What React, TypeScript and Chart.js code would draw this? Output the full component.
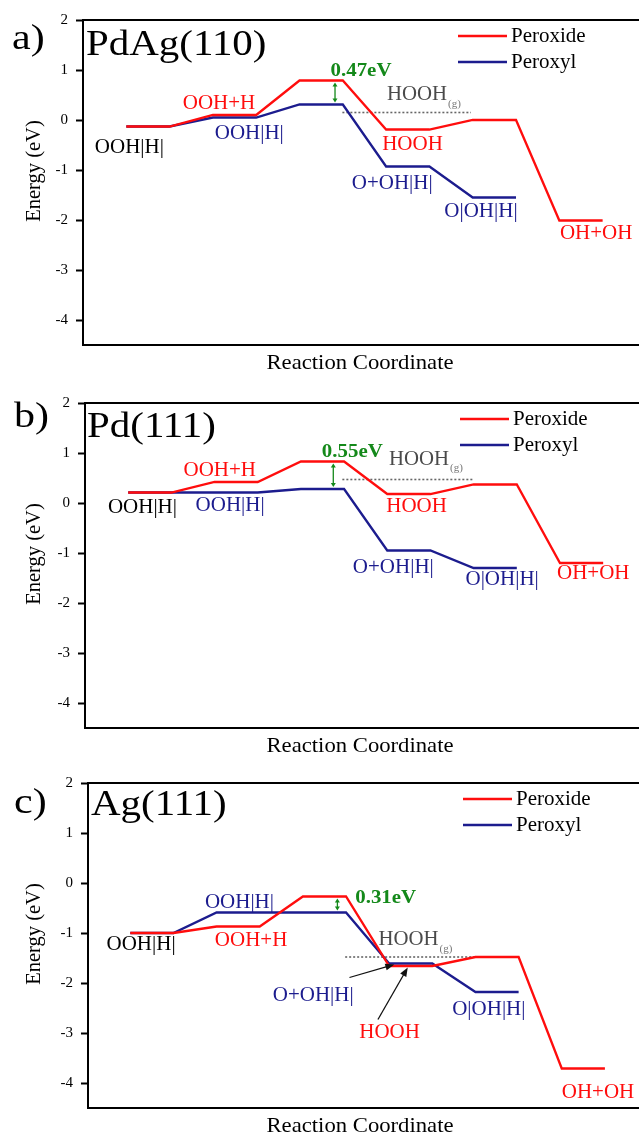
import React, { useEffect, useRef } from "react";
import { Chart, registerables } from "chart.js";

Chart.register(...registerables);

const SERIF = '"Liberation Serif", "Times New Roman", serif';
const RED = "#ff0d0d";
const BLUE = "#1c1c8e";
const GREEN = "#14891a";
const GRAY = "#4a4a4a";

// ---- data ----
const seriesNames = ["Peroxide", "Peroxyl"];
const yTicks = [2, 1, 0, -1, -2, -3, -4];
const panelLetters = ["a)", "b)", "c)"];
const surfaces = ["PdAg(110)", "Pd(111)", "Ag(111)"];
const barrierTexts = ["0.47eV", "0.55eV", "0.31eV"];

// PdAg(110)
const peroxideA = [-0.13, 0.1, 0.79, -0.19, 0.0, -2.01];
const peroxylA = [-0.13, 0.05, 0.31, -0.93, -1.55];
// Pd(111)
const peroxideB = [0.21, 0.42, 0.83, 0.18, 0.37, -1.2];
const peroxylB = [0.21, 0.21, 0.28, -0.95, -1.3];
// Ag(111)
const peroxideC = [-1.0, -0.87, -0.27, -1.66, -1.48, -3.71];
const peroxylC = [-1.0, -0.59, -0.59, -1.61, -2.18];

const hoohGas = [0.15, 0.47, -1.48];

const stateNames = ["OOH|H|", "OOH+H", "HOOH", "O+OH|H|", "O|OH|H|", "OH+OH"];

type Lbl = { text: string; x: number; y: number; color: string };

const labelsA: Lbl[] = [
  { text: stateNames[0], x: 0.07, y: -0.54, color: "#000" },
  { text: stateNames[1], x: 2.14, y: 0.34, color: RED },
  { text: stateNames[0], x: 2.84, y: -0.26, color: BLUE },
  { text: stateNames[2], x: 6.61, y: -0.48, color: RED },
  { text: stateNames[3], x: 6.14, y: -1.26, color: BLUE },
  { text: stateNames[4], x: 8.19, y: -1.82, color: BLUE },
  { text: stateNames[5], x: 10.85, y: -2.26, color: RED },
];
const labelsB: Lbl[] = [
  { text: stateNames[0], x: 0.33, y: -0.08, color: "#000" },
  { text: stateNames[1], x: 2.12, y: 0.66, color: RED },
  { text: stateNames[0], x: 2.36, y: -0.04, color: BLUE },
  { text: stateNames[2], x: 6.68, y: -0.06, color: RED },
  { text: stateNames[3], x: 6.14, y: -1.29, color: BLUE },
  { text: stateNames[4], x: 8.66, y: -1.53, color: BLUE },
  { text: stateNames[5], x: 10.77, y: -1.41, color: RED },
];
const labelsC: Lbl[] = [
  { text: stateNames[0], x: 0.25, y: -1.22, color: "#000" },
  { text: stateNames[1], x: 2.8, y: -1.14, color: RED },
  { text: stateNames[0], x: 2.53, y: -0.38, color: BLUE },
  { text: stateNames[2], x: 6.01, y: -2.98, color: RED },
  { text: stateNames[3], x: 4.24, y: -2.24, color: BLUE },
  { text: stateNames[4], x: 8.31, y: -2.52, color: BLUE },
  { text: stateNames[5], x: 10.84, y: -4.18, color: RED },
];

type PanelCfg = {
  idx: number;
  peroxide: number[];
  peroxyl: number[];
  labels: Lbl[];
  height: number;
  top: number;
  bottom: number;
  left: number;
  xMin: number;
  xMax: number;
  letterY: number;
  letterX: number;
  titleY: number;
  titleX: number;
  arrowX: number;
  barrierPos: [number, number];
  gasTextPos: [number, number];
  gasRange: [number, number];
  pointers: [number, number, number, number][];
};

const panels: PanelCfg[] = [
  {
    idx: 0, peroxide: peroxideA, peroxyl: peroxylA, labels: labelsA,
    height: 380, top: 20, bottom: 345, left: 83, xMin: -1, xMax: 11.84,
    letterX: 12, letterY: 40, titleX: 86, titleY: 46,
    arrowX: 4.82, barrierPos: [5.42, 0.98], gasTextPos: [6.02, 0.5], gasRange: [4.99, 7.96],
    pointers: [],
  },
  {
    idx: 1, peroxide: peroxideB, peroxyl: peroxylB, labels: labelsB,
    height: 380, top: 23, bottom: 348, left: 85, xMin: -1, xMax: 11.83,
    letterX: 14, letterY: 38, titleX: 87, titleY: 48,
    arrowX: 4.75, barrierPos: [5.19, 1.01], gasTextPos: [6.04, 0.87], gasRange: [4.96, 7.98],
    pointers: [],
  },
  {
    idx: 2, peroxide: peroxideC, peroxyl: peroxylC, labels: labelsC,
    height: 374, top: 23, bottom: 348, left: 88, xMin: -0.98, xMax: 11.79,
    letterX: 14, letterY: 44, titleX: 91, titleY: 46,
    arrowX: 4.8, barrierPos: [5.92, -0.3], gasTextPos: [5.75, -1.14], gasRange: [4.98, 7.97],
    pointers: [
      [5.08, -1.89, 6.12, -1.63],
      [5.74, -2.73, 6.43, -1.69],
    ],
  },
];

function levelPoints(levels: number[]) {
  return levels.flatMap((v, i) => [
    { x: 2 * i, y: v },
    { x: 2 * i + 1, y: v },
  ]);
}

function drawText(
  ctx: CanvasRenderingContext2D,
  text: string,
  x: number,
  y: number,
  size: number,
  color: string,
  align: CanvasTextAlign = "center",
  sx = 1,
  weight = "normal"
) {
  ctx.save();
  ctx.font = `${weight} ${size}px ${SERIF}`;
  ctx.fillStyle = color;
  ctx.textAlign = align;
  ctx.textBaseline = "middle";
  ctx.translate(x, y);
  ctx.scale(sx, 1);
  ctx.fillText(text, 0, 0);
  ctx.restore();
}

function head(ctx: CanvasRenderingContext2D, x1: number, y1: number, x2: number, y2: number, len: number, half: number) {
  const a = Math.atan2(y2 - y1, x2 - x1);
  const c = Math.cos(a), s = Math.sin(a);
  ctx.beginPath();
  ctx.moveTo(x2, y2);
  ctx.lineTo(x2 - len * c + half * s, y2 - len * s - half * c);
  ctx.lineTo(x2 - len * c - half * s, y2 - len * s + half * c);
  ctx.closePath();
  ctx.fill();
}

function Panel({ cfg }: { cfg: PanelCfg }) {
  const ref = useRef<HTMLCanvasElement>(null);
  useEffect(() => {
    const canvas = ref.current;
    if (!canvas) return;
    const deco = {
      id: "deco",
      beforeDatasetsDraw(chart: any) {
        const ctx = chart.ctx as CanvasRenderingContext2D;
        const xs = chart.scales.x, ys = chart.scales.y;
        const gy = ys.getPixelForValue(hoohGas[cfg.idx]);
        ctx.save();
        ctx.strokeStyle = "#666";
        ctx.lineWidth = 1.6;
        ctx.setLineDash([2, 2]);
        ctx.beginPath();
        ctx.moveTo(xs.getPixelForValue(cfg.gasRange[0]), gy);
        ctx.lineTo(xs.getPixelForValue(cfg.gasRange[1]), gy);
        ctx.stroke();
        ctx.restore();
      },
      afterDatasetsDraw(chart: any) {
        const ctx = chart.ctx as CanvasRenderingContext2D;
        const xs = chart.scales.x, ys = chart.scales.y;
        const area = chart.chartArea;
        // state labels
        for (const l of cfg.labels) {
          drawText(ctx, l.text, xs.getPixelForValue(l.x), ys.getPixelForValue(l.y), 21, l.color, "center", 1.0);
        }
        // gas-phase HOOH label
        const gx = xs.getPixelForValue(cfg.gasTextPos[0]);
        const gyy = ys.getPixelForValue(cfg.gasTextPos[1]);
        ctx.save();
        ctx.font = `20px ${SERIF}`;
        const w = ctx.measureText("HOOH").width * 1.04;
        ctx.restore();
        drawText(ctx, "HOOH", gx, gyy, 20, GRAY, "left", 1.04);
        drawText(ctx, "(g)", gx + w + 1, gyy + 9, 11, "#777", "left", 1.0);
        // barrier arrow
        const ax = xs.getPixelForValue(cfg.arrowX);
        const y1 = ys.getPixelForValue(cfg.peroxide[2]) + 2;
        const y2 = ys.getPixelForValue(cfg.peroxyl[2]) - 2;
        ctx.save();
        ctx.strokeStyle = GREEN;
        ctx.fillStyle = GREEN;
        ctx.lineWidth = 1.3;
        ctx.beginPath();
        ctx.moveTo(ax, y1 + 3);
        ctx.lineTo(ax, y2 - 3);
        ctx.stroke();
        head(ctx, ax, y2, ax, y1, 4, 2.5);
        head(ctx, ax, y1, ax, y2, 4, 2.5);
        ctx.restore();
        drawText(ctx, barrierTexts[cfg.idx], xs.getPixelForValue(cfg.barrierPos[0]), ys.getPixelForValue(cfg.barrierPos[1]), 19, GREEN, "center", 1.1, "bold");
        // pointer arrows
        ctx.save();
        ctx.strokeStyle = "#111";
        ctx.fillStyle = "#111";
        ctx.lineWidth = 1.3;
        for (const p of cfg.pointers) {
          const px1 = xs.getPixelForValue(p[0]), py1 = ys.getPixelForValue(p[1]);
          const px2 = xs.getPixelForValue(p[2]), py2 = ys.getPixelForValue(p[3]);
          const a = Math.atan2(py2 - py1, px2 - px1);
          ctx.beginPath();
          ctx.moveTo(px1, py1);
          ctx.lineTo(px2 - 6 * Math.cos(a), py2 - 6 * Math.sin(a));
          ctx.stroke();
          head(ctx, px1, py1, px2, py2, 9, 3.5);
        }
        ctx.restore();
        // top frame line
        ctx.save();
        ctx.strokeStyle = "#000";
        ctx.lineWidth = 2;
        ctx.beginPath();
        ctx.moveTo(area.left - 1, area.top);
        ctx.lineTo(chart.width, area.top);
        ctx.stroke();
        ctx.restore();
      },
      afterDraw(chart: any) {
        const ctx = chart.ctx as CanvasRenderingContext2D;
        const area = chart.chartArea;
        // legend
        const lx = area.left + 375;
        chart.data.datasets.forEach((ds: any, i: number) => {
          const ly = area.top + 16 + i * 26;
          ctx.save();
          ctx.strokeStyle = ds.borderColor;
          ctx.lineWidth = 2.4;
          ctx.beginPath();
          ctx.moveTo(lx, ly);
          ctx.lineTo(lx + 49, ly);
          ctx.stroke();
          ctx.restore();
          drawText(ctx, ds.label, lx + 53, ly, 21, "#000", "left", 1.0);
        });
        // letter and surface title
        drawText(ctx, panelLetters[cfg.idx], cfg.letterX, cfg.letterY, 35, "#000", "left", 1.2);
        drawText(ctx, surfaces[cfg.idx], cfg.titleX, cfg.titleY, 35, "#000", "left", 1.17);
        // axis titles
        ctx.save();
        ctx.translate(35, area.top + 151);
        ctx.rotate(-Math.PI / 2);
        drawText(ctx, "Energy (eV)", 0, 0, 20.5, "#000", "center", 1);
        ctx.restore();
        drawText(ctx, "Reaction Coordinate", 360, area.bottom + 18, 21, "#000", "center", 1.08);
      },
    };

    const chart = new Chart(canvas, {
      type: "line",
      data: {
        datasets: [
          {
            label: seriesNames[0],
            data: levelPoints(cfg.peroxide),
            borderColor: RED,
            borderWidth: 2.3,
            pointRadius: 0,
            tension: 0,
            fill: false,
          },
          {
            label: seriesNames[1],
            data: levelPoints(cfg.peroxyl),
            borderColor: BLUE,
            borderWidth: 2.3,
            pointRadius: 0,
            tension: 0,
            fill: false,
          },
        ],
      },
      options: {
        responsive: false,
        animation: false,
        devicePixelRatio: 1,
        events: [],
        layout: { padding: { top: cfg.top, left: 0, right: 0, bottom: 0 } },
        plugins: { legend: { display: false }, tooltip: { enabled: false } },
        scales: {
          x: {
            type: "linear",
            min: cfg.xMin,
            max: cfg.xMax,
            afterFit: (s: any) => {
              s.height = cfg.height - cfg.bottom;
            },
            ticks: { display: false },
            grid: { display: true, drawOnChartArea: false, drawTicks: false },
            border: { display: true, color: "#000", width: 2 },
          },
          y: {
            type: "linear",
            min: -4.5,
            max: 2,
            afterBuildTicks: (s: any) => {
              s.ticks = yTicks.map((v) => ({ value: v }));
            },
            afterFit: (s: any) => {
              s.width = cfg.left;
            },
            ticks: {
              font: { family: SERIF, size: 15 },
              color: "#000",
              padding: 8,
            },
            grid: {
              drawOnChartArea: false,
              drawTicks: true,
              tickLength: 7,
              tickWidth: 2,
              tickColor: "#000",
            },
            border: { display: true, color: "#000", width: 2 },
          },
        },
      },
      plugins: [deco],
    } as any);
    return () => chart.destroy();
  }, [cfg]);
  return <canvas ref={ref} width={639} height={cfg.height} style={{ display: "block" }} />;
}

export default function App() {
  return (
    <div
      style={{
        position: "absolute",
        left: 0,
        top: 0,
        width: 639,
        height: 1134,
        overflow: "hidden",
        background: "#fff",
      }}
    >
      {panels.map((p) => (
        <Panel key={p.idx} cfg={p} />
      ))}
    </div>
  );
}
